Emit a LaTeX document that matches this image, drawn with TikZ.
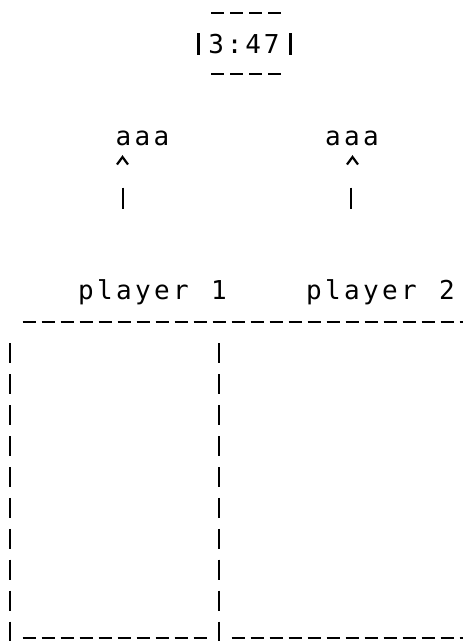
\documentclass[tikz,border=0pt]{standalone}
\usepackage{fontspec}
\setmonofont{DejaVu Sans Mono}
\newcommand\cc[1]{\makebox[19pt]{#1}}
\newcommand\cd[1]{\makebox[18.5pt]{#1}}
\tikzset{
  txt/.style={inner sep=0pt, outer sep=0pt, anchor=base west, font=\ttfamily\fontsize{26}{26}\selectfont},
  dashrow/.style={line width=2pt, dash pattern=on 13pt off 6pt},
  pipecol/.style={line width=2.5pt, dash pattern=on 20pt off 10.9pt},
  bar/.style={line width=2.5pt},
  chevron/.style={line width=2.2pt, line join=miter},
}
\begin{document}
\begin{tikzpicture}
\useasboundingbox (0,0) rectangle (463pt,-641pt);
% clock
\coordinate (t1) at (211pt,-12.5pt);  \coordinate (t2) at (281pt,-12.5pt);
\coordinate (b1) at (211pt,-73.5pt);  \coordinate (b2) at (281pt,-73.5pt);
\draw[dashrow] (t1) -- (t2);
\draw[dashrow] (b1) -- (b2);
\coordinate (cl1) at (198.5pt,-33pt); \coordinate (cl2) at (198.5pt,-55pt);
\coordinate (cr1) at (290.5pt,-33pt); \coordinate (cr2) at (290.5pt,-55pt);
\draw[bar] (cl1) -- (cl2);
\draw[bar] (cr1) -- (cr2);
\node[txt] (clock) at (207pt,-53.5pt) {\cd{3}\cd{:}\cd{4}\cd{7}};
% scores
\node[txt] (s1) at (114pt,-145pt) {\cc{a}\cc{a}\cc{a}};
\node[txt] (s2) at (323.5pt,-145pt) {\cc{a}\cc{a}\cc{a}};
% carets
\coordinate (h1l) at (117pt,-164.5pt); \coordinate (h1t) at (122.5pt,-157pt); \coordinate (h1r) at (128pt,-164.5pt);
\coordinate (h2l) at (347pt,-164.5pt); \coordinate (h2t) at (352.5pt,-157pt); \coordinate (h2r) at (358pt,-164.5pt);
\draw[chevron] (h1l) -- (h1t) -- (h1r);
\draw[chevron] (h2l) -- (h2t) -- (h2r);
\coordinate (v1a) at (123pt,-187.5pt); \coordinate (v1b) at (123pt,-208.5pt);
\coordinate (v2a) at (351pt,-187.5pt); \coordinate (v2b) at (351pt,-208.5pt);
\draw[bar] (v1a) -- (v1b);
\draw[bar] (v2a) -- (v2b);
% players
\node[txt] (p1) at (76.5pt,-299pt) {\cc{p}\cc{l}\cc{a}\cc{y}\cc{e}\cc{r}\cc{ }\cc{1}};
\node[txt] (p2) at (304.5pt,-299pt) {\cc{p}\cc{l}\cc{a}\cc{y}\cc{e}\cc{r}\cc{ }\cc{2}};
% board
\coordinate (top1) at (22.5pt,-322pt); \coordinate (top2) at (470pt,-322pt);
\draw[dashrow] (top1) -- (top2);
\coordinate (l1) at (10pt,-343.4pt); \coordinate (l2) at (10pt,-641pt);
\coordinate (m1) at (219pt,-343.4pt); \coordinate (m2) at (219pt,-641pt);
\draw[pipecol] (l1) -- (l2);
\draw[pipecol] (m1) -- (m2);
\coordinate (u1) at (22.5pt,-638pt); \coordinate (u2) at (206.5pt,-638pt);
\coordinate (u3) at (231.5pt,-638pt); \coordinate (u4) at (470pt,-638pt);
\draw[dashrow] (u1) -- (u2);
\draw[dashrow] (u3) -- (u4);
\end{tikzpicture}
\end{document}
